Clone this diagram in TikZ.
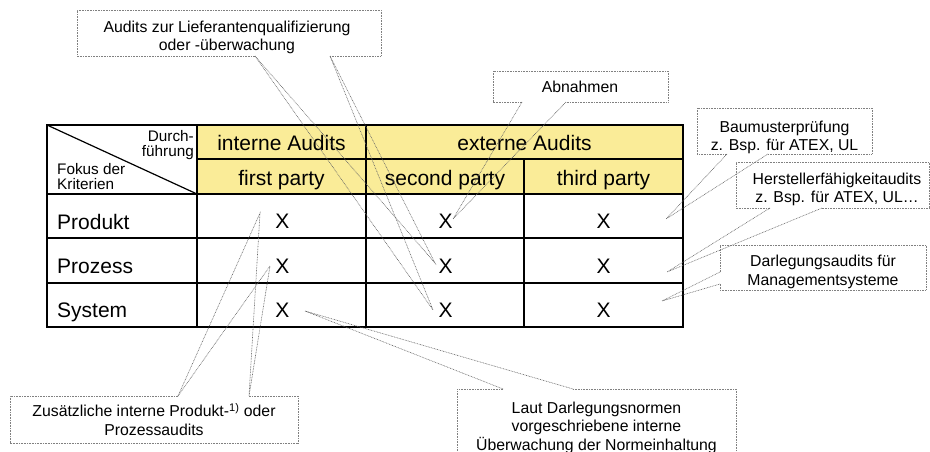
\documentclass[tikz,border=0pt]{standalone}
\usepackage{fontspec}
\setmainfont{Liberation Sans}
\definecolor{hdr}{RGB}{250,236,152}
\begin{document}
\begin{tikzpicture}[x=1pt,y=-1pt,
  grid/.style={line width=1.2pt, draw=black},
  big/.style={font=\fontsize{21}{25}\selectfont, inner sep=0pt, anchor=base},
  corner/.style={font=\fontsize{15.3}{15}\selectfont, inner sep=0pt},
  note/.style={font=\fontsize{15.8}{18.5}\selectfont, inner sep=0pt, align=center, anchor=north},
  cbox/.style={draw=black!50, line width=0.6pt, dash pattern=on 0.8pt off 0.8pt},
  wedge/.style={draw=black!60, line width=0.6pt, dash pattern=on 0.8pt off 0.8pt},
]
\useasboundingbox (0,0) rectangle (930,452);
% table
\fill[hdr] (197,125) rectangle (683,194);
\draw[grid] (47,125) rectangle (683,327);
\draw[grid] (197,125) -- (197,327);
\draw[grid] (366,125) -- (366,327);
\draw[grid] (524,159) -- (524,327);
\draw[grid] (197,159) -- (683,159);
\draw[grid] (47,194) -- (683,194);
\draw[grid] (47,238) -- (683,238);
\draw[grid] (47,283) -- (683,283);
\draw[grid] (47,125) -- (197,194);
\node[corner, align=right, anchor=north east] (durch) at (194,130) {Durch-\\führung};
\node[corner, align=left, anchor=north west] (fokus) at (57,163) {Fokus der\\Kriterien};
\node[big] (hint) at (281.5,150) {interne Audits};
\node[big] (hext) at (524.5,150) {externe Audits};
\node[big] (hfirst) at (281.5,185) {first party};
\node[big] (hsecond) at (445,185) {second party};
\node[big] (hthird) at (603.5,185) {third party};
\node[big, anchor=base west] (rprod) at (57,229) {Produkt};
\node[big, anchor=base west] (rproz) at (57,273) {Prozess};
\node[big, anchor=base west] (rsys) at (57,317) {System};
\node[big] (x11) at (282.5,228) {X};
\node[big] (x12) at (282.5,273) {X};
\node[big] (x13) at (282.5,317) {X};
\node[big] (x21) at (445.5,228) {X};
\node[big] (x22) at (445.5,273) {X};
\node[big] (x23) at (445.5,317) {X};
\node[big] (x31) at (603.5,228) {X};
\node[big] (x32) at (603.5,273) {X};
\node[big] (x33) at (603.5,317) {X};
% callout: Audits zur Lieferantenqualifizierung
\coordinate (a1) at (255,56); \coordinate (a2) at (330,56);
\coordinate (ta) at (435,263); \coordinate (tb) at (433,310);
\draw[cbox] (a1) -- (77,56) -- (77,10) -- (381,10) -- (381,56) -- (a2);
\node[note] (audits) at (227,20.5) {Audits zur Lieferantenqualifizierung\\oder -überwachung};
\draw[wedge] (a1) -- (ta) -- (a2);
\draw[wedge] (a1) -- (tb) -- (a2);
% callout: Abnahmen
\coordinate (ab1) at (522,102); \coordinate (ab2) at (566,102);
\coordinate (tab) at (453,219);
\draw[cbox] (ab1) -- (493,102) -- (493,71) -- (668,71) -- (668,102) -- (ab2);
\node[note] (abn) at (580,80.5) {Abnahmen};
\draw[wedge] (ab1) -- (tab) -- (ab2);
% callout: Baumusterpruefung
\coordinate (b1) at (727,154); \coordinate (b2) at (768,154);
\coordinate (tbm) at (666,219);
\draw[cbox] (b1) -- (697,154) -- (697,108) -- (872,108) -- (872,154) -- (b2);
\node[note] (baum) at (784.5,120.5) {Baumusterprüfung\\z. Bsp. für ATEX, UL};
\draw[wedge] (b1) -- (tbm) -- (b2);
% callout: Herstellerfaehigkeitaudits
\coordinate (h1) at (770,208); \coordinate (h2) at (822,208);
\coordinate (th) at (667,272);
\draw[cbox] (h1) -- (736,208) -- (736,162) -- (929,162) -- (929,208) -- (h2);
\node[note] (herst) at (837,172.5) {Herstellerfähigkeitaudits\\z. Bsp. für ATEX, UL…};
\draw[wedge] (h1) -- (th) -- (h2);
% callout: Darlegungsaudits
\coordinate (d1) at (720,272); \coordinate (d2) at (720,284);
\coordinate (td) at (662,301);
\draw[cbox] (d1) -- (720,245) -- (926,245) -- (926,290) -- (720,290) -- (d2);
\node[note] (darl) at (823,255) {Darlegungsaudits für\\Managementsysteme};
\draw[wedge] (d1) -- (td) -- (d2);
% callout: Zusaetzliche interne Audits
\coordinate (z1) at (178,396); \coordinate (z2) at (249,396);
\coordinate (tz1) at (260,213); \coordinate (tz2) at (270,266);
\draw[cbox] (z1) -- (10,396) -- (10,443) -- (298,443) -- (298,396) -- (z2);
\node[note] (zus) at (154,403.5) {Zusätzliche interne Produkt-\textsuperscript{1)} oder\\Prozessaudits};
\draw[wedge] (z1) -- (tz1) -- (z2);
\draw[wedge] (z1) -- (tz2) -- (z2);
% callout: Laut Darlegungsnormen
\coordinate (l1) at (503,389); \coordinate (l2) at (573,389);
\coordinate (tl) at (305,311);
\draw[cbox] (l1) -- (457,389) -- (457,452);
\draw[cbox] (l2) -- (736,389) -- (736,452);
\node[note] (laut) at (596.5,401.5) {Laut Darlegungsnormen\\vorgeschriebene interne\\Überwachung der Normeinhaltung};
\draw[wedge] (l1) -- (tl) -- (l2);
\end{tikzpicture}
\end{document}
